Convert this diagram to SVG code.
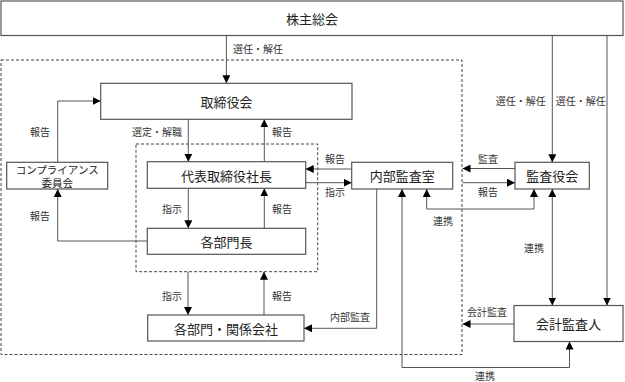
<svg xmlns="http://www.w3.org/2000/svg" width="625" height="382" viewBox="0 0 625 382">
<style>
.box{fill:#fff;stroke:#555;stroke-width:1.2}
.dash{fill:none;stroke:#444;stroke-width:1;stroke-dasharray:3 2}
.ln{fill:none;stroke:#555;stroke-width:1}
.t{font-family:"Noto Sans CJK JP","Noto Sans",sans-serif;font-size:13px;fill:#222;text-anchor:middle;dominant-baseline:central}
.s{font-family:"Noto Sans CJK JP","Noto Sans",sans-serif;font-size:10px;fill:#333;dominant-baseline:central}
</style>
<defs>
<marker id="ah" viewBox="0 0 8 8" refX="8" refY="4" markerWidth="8" markerHeight="8" markerUnits="userSpaceOnUse" orient="auto-start-reverse">
<path d="M0,0 L8,4 L0,8 z" fill="#000"/>
</marker>
</defs>
<rect class="dash" x="1" y="60" width="461" height="294.5"/>
<rect class="dash" x="136" y="144" width="181.7" height="127.7"/>
<g id="connectors">
<line class="ln" x1="226.4" y1="35.5" x2="226.4" y2="83.3" marker-end="url(#ah)"/>
<line class="ln" x1="188.3" y1="119.3" x2="188.3" y2="161.7" marker-end="url(#ah)"/>
<line class="ln" x1="264.3" y1="161.7" x2="264.3" y2="119.3" marker-end="url(#ah)"/>
<line class="ln" x1="188.3" y1="188.3" x2="188.3" y2="228.3" marker-end="url(#ah)"/>
<line class="ln" x1="264.3" y1="228.3" x2="264.3" y2="188.3" marker-end="url(#ah)"/>
<polyline class="ln" points="147.3,241 57.7,241 57.7,189" marker-end="url(#ah)"/>
<polyline class="ln" points="57.7,162.3 57.7,101 100.7,101" marker-end="url(#ah)"/>
<line class="ln" x1="351.7" y1="169" x2="305.7" y2="169" marker-end="url(#ah)"/>
<line class="ln" x1="305.7" y1="182.7" x2="351.7" y2="182.7" marker-end="url(#ah)"/>
<line class="ln" x1="515" y1="168.5" x2="462.5" y2="168.5" marker-end="url(#ah)"/>
<line class="ln" x1="462.5" y1="182.7" x2="515" y2="182.7" marker-end="url(#ah)"/>
<polyline class="ln" points="426.7,189 426.7,209 534,209 534,189" marker-start="url(#ah)" marker-end="url(#ah)"/>
<line class="ln" x1="552.3" y1="35.5" x2="552.3" y2="162.3" marker-end="url(#ah)"/>
<line class="ln" x1="607" y1="35.5" x2="607" y2="305.5" marker-end="url(#ah)"/>
<line class="ln" x1="552.3" y1="189" x2="552.3" y2="305.5" marker-start="url(#ah)" marker-end="url(#ah)"/>
<polyline class="ln" points="376.7,189 376.7,328.3 304,328.3" marker-end="url(#ah)"/>
<line class="ln" x1="188" y1="271.7" x2="188" y2="315" marker-end="url(#ah)"/>
<line class="ln" x1="264" y1="315" x2="264" y2="271.7" marker-end="url(#ah)"/>
<line class="ln" x1="514" y1="324" x2="462.5" y2="324" marker-end="url(#ah)"/>
<polyline class="ln" points="402,189 402,367.5 569.5,367.5 569.5,341.5" marker-start="url(#ah)" marker-end="url(#ah)"/>
</g>
<g id="labels">
<text class="s" x="233" y="48">選任・解任</text>
<text class="s" x="132" y="131.7">選定・解職</text>
<text class="s" x="272" y="131.7">報告</text>
<text class="s" x="162" y="208">指示</text>
<text class="s" x="272" y="208">報告</text>
<text class="s" x="30" y="131.7">報告</text>
<text class="s" x="30" y="215">報告</text>
<text class="s" x="325" y="158">報告</text>
<text class="s" x="325" y="191.7">指示</text>
<text class="s" x="478" y="158">監査</text>
<text class="s" x="478" y="191.7">報告</text>
<text class="s" x="433" y="220">連携</text>
<text class="s" x="495.7" y="100">選任・解任</text>
<text class="s" x="555.7" y="100">選任・解任</text>
<text class="s" x="524" y="247">連携</text>
<text class="s" x="330" y="316.7">内部監査</text>
<text class="s" x="162" y="295">指示</text>
<text class="s" x="272" y="295">報告</text>
<text class="s" x="467" y="311.7">会計監査</text>
<text class="s" x="475" y="375">連携</text>
</g>
<g id="n-kabunushi"><rect class="box" x="1" y="1" width="622" height="34.5"/><text class="t" x="312" y="18">株主総会</text></g>
<g id="n-torishimariyakukai"><rect class="box" x="100.7" y="83.3" width="251.3" height="36"/><text class="t" x="226.4" y="101.3">取締役会</text></g>
<g id="n-shacho"><rect class="box" x="147.3" y="161.7" width="158.4" height="26.6"/><text class="t" x="226.5" y="175">代表取締役社長</text></g>
<g id="n-buchou"><rect class="box" x="147.3" y="228.3" width="158.4" height="26"/><text class="t" x="226.5" y="241.3">各部門長</text></g>
<g id="n-kankei"><rect class="box" x="147.7" y="315" width="156.3" height="26"/><text class="t" x="226" y="328">各部門・関係会社</text></g>
<g id="n-compliance"><rect class="box" x="6.7" y="162.3" width="101" height="26.7"/><text class="t" x="57.2" y="169" style="font-size:10.5px">コンプライアンス</text><text class="t" x="57.2" y="182.5" style="font-size:10.5px">委員会</text></g>
<g id="n-naibu"><rect class="box" x="351.7" y="162.3" width="101" height="26.7"/><text class="t" x="402.2" y="175.6">内部監査室</text></g>
<g id="n-kansayaku"><rect class="box" x="515" y="162.3" width="74.3" height="26.7"/><text class="t" x="552.2" y="175.6">監査役会</text></g>
<g id="n-kaikei"><rect class="box" x="514" y="305.5" width="109" height="36"/><text class="t" x="568.5" y="323.5">会計監査人</text></g>
</svg>
